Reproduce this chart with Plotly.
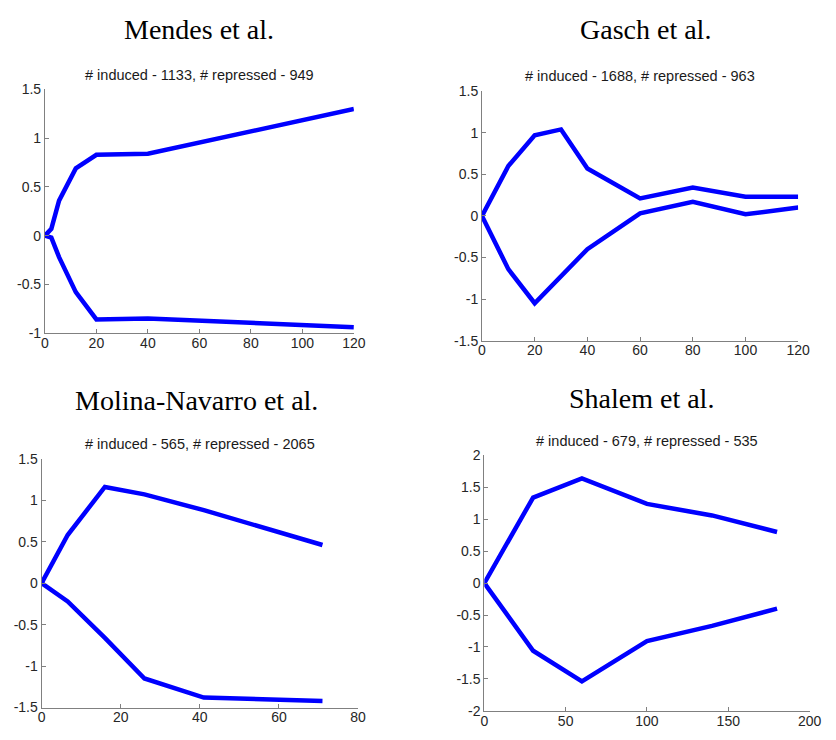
import plotly.graph_objects as go

# ---- data: mean expression profiles (induced / repressed) per study ----
mendes_t = [0, 2.5, 5.5, 12, 20, 30, 40, 120]
mendes_up = [0, 0.07, 0.36, 0.69, 0.83, 0.83, 0.84, 1.30]
mendes_down = [0, -0.02, -0.22, -0.58, -0.86, -0.85, -0.85, -0.94]

gasch_t = [0, 10, 20, 30, 40, 60, 80, 100, 120]
gasch_up = [0, 0.60, 0.97, 1.04, 0.57, 0.21, 0.34, 0.23, 0.23]
gasch_down = [0, -0.64, -1.05, -0.72, -0.40, 0.03, 0.17, 0.02, 0.10]

molina_t = [0, 6.6, 16, 26, 41, 71]
molina_up = [0, 0.58, 1.16, 1.07, 0.88, 0.46]
molina_down = [0, -0.22, -0.66, -1.15, -1.38, -1.42]

shalem_t = [0, 30, 60, 100, 140, 180]
shalem_up = [0, 1.34, 1.64, 1.24, 1.06, 0.80]
shalem_down = [0, -1.06, -1.54, -0.91, -0.67, -0.40]

titles = ["Mendes et al.", "Gasch et al.", "Molina-Navarro et al.", "Shalem et al."]
subtitles = [
    "# induced - 1133, # repressed - 949",
    "# induced - 1688, # repressed - 963",
    "# induced - 565, # repressed - 2065",
    "# induced - 679, # repressed - 535",
]

x_ranges = [[0, 120], [0, 120], [0, 80], [0, 200]]
x_ticks = [list(range(0, 121, 20)), list(range(0, 121, 20)),
           list(range(0, 81, 20)), list(range(0, 201, 50))]
y_ranges = [[-1, 1.5], [-1.5, 1.5], [-1.5, 1.5], [-2, 2]]
y_ticks = [[-1, -0.5, 0, 0.5, 1, 1.5],
           [-1.5, -1, -0.5, 0, 0.5, 1, 1.5],
           [-1.5, -1, -0.5, 0, 0.5, 1, 1.5],
           [-2, -1.5, -1, -0.5, 0, 0.5, 1, 1.5, 2]]

series = [
    (mendes_t, mendes_up, mendes_down),
    (gasch_t, gasch_up, gasch_down),
    (molina_t, molina_up, molina_down),
    (shalem_t, shalem_up, shalem_down),
]

# ---- layout geometry (pixels in an 836 x 740 page) ----
W, H = 836, 740
boxes = [  # left, right, top, bottom of each plot area
    (41.7, 356.7, 83.3, 332.3),
    (487.3, 809.7, 85.0, 340.0),
    (38.3, 361.0, 460.7, 715.0),
    (489.7, 821.3, 457.3, 718.3),
]
title_pos = [(199, 22), (654, 22), (196, 401), (650, 399)]

LINE_BLUE = "#0000ff"
AXIS_GREY = "#808080"
TICK_FONT = dict(family="Liberation Sans, Arial", size=14, color="#262626")


def fmt(v):
    # plain hyphen-minus labels, e.g. "-0.5"
    return "%g" % v


fig = go.Figure()
annotations = []

for i, (t, up, down) in enumerate(series):
    n = "" if i == 0 else str(i + 1)
    xa, ya = "x" + n, "y" + n
    for vals in (up, down):
        fig.add_trace(go.Scatter(
            x=t, y=vals, xaxis=xa, yaxis=ya, mode="lines",
            line=dict(color=LINE_BLUE, width=4.5), showlegend=False,
            hoverinfo="skip",
        ))

    l, r, tp, b = boxes[i]
    axis_common = dict(
        showline=True, linecolor=AXIS_GREY, linewidth=1,
        ticks="inside", ticklen=4, tickcolor=AXIS_GREY, tickwidth=1,
        showgrid=False, zeroline=False, tickfont=TICK_FONT,
        fixedrange=True,
    )
    fig.layout["xaxis" + n] = dict(
        domain=[l / W, r / W], anchor=ya, range=x_ranges[i],
        tickmode="array", tickvals=x_ticks[i],
        ticktext=[fmt(v) for v in x_ticks[i]],
        ticklabelstandoff=-3, **axis_common,
    )
    fig.layout["yaxis" + n] = dict(
        domain=[1 - b / H, 1 - tp / H], anchor=xa, range=y_ranges[i],
        tickmode="array", tickvals=y_ticks[i],
        ticktext=[fmt(v) for v in y_ticks[i]], **axis_common,
    )

    tx, ty = title_pos[i]
    annotations.append(dict(
        text=titles[i], x=tx / W, y=1 - ty / H, xref="paper", yref="paper",
        xanchor="center", yanchor="middle", showarrow=False,
        font=dict(family="Liberation Serif, Times New Roman", size=28,
                  color="#000000"),
    ))
    annotations.append(dict(
        text=subtitles[i], x=(l + r) / 2 / W, y=1 - (tp - 15) / H,
        xref="paper", yref="paper", xanchor="center", yanchor="middle",
        showarrow=False,
        font=dict(family="Liberation Sans, Arial", size=14.5, color="#1a1a1a"),
    ))

fig.update_layout(
    width=W, height=H, margin=dict(l=0, r=0, t=0, b=0),
    paper_bgcolor="white", plot_bgcolor="white",
    annotations=annotations, showlegend=False,
)

fig.write_html("out.html", config={"displayModeBar": False})
